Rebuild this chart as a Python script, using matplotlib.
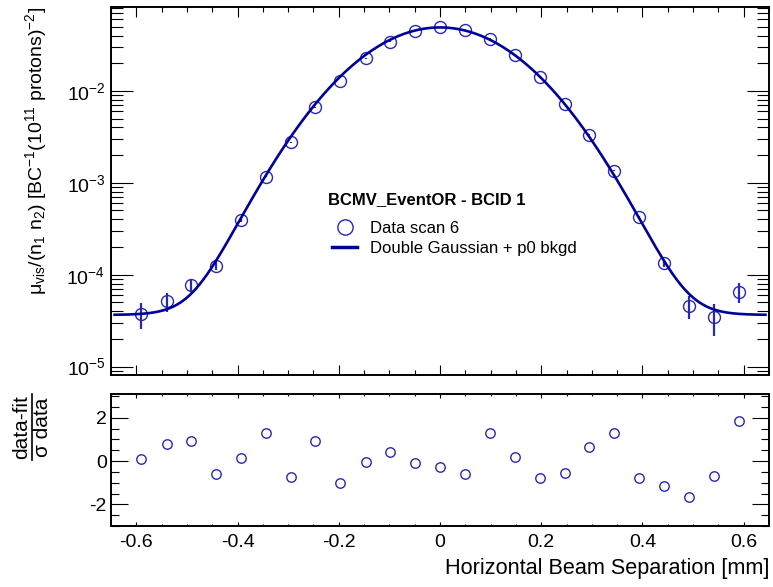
import numpy as np
import matplotlib
matplotlib.use('Agg')
import matplotlib.pyplot as plt
import matplotlib.ticker as ticker
from matplotlib.lines import Line2D

plt.rcParams['font.family'] = ['Liberation Sans', 'DejaVu Sans']
plt.rcParams['mathtext.fontset'] = 'custom'
plt.rcParams['mathtext.rm'] = 'Liberation Sans'
plt.rcParams['mathtext.it'] = 'Liberation Sans:italic'
plt.rcParams['mathtext.bf'] = 'Liberation Sans:bold'
plt.rcParams['axes.unicode_minus'] = False

# data
separation = [-0.590, -0.540, -0.491, -0.442, -0.393, -0.344, -0.295, -0.246, -0.197,
              -0.147, -0.098, -0.049, 0.000, 0.049, 0.098, 0.148, 0.197, 0.246,
              0.295, 0.344, 0.393, 0.443, 0.492, 0.541, 0.590]
mu_vis = [3.77e-5, 5.13e-5, 7.66e-5, 1.25e-4, 3.94e-4, 1.17e-3, 2.77e-3, 6.65e-3, 1.285e-2,
          2.26e-2, 3.44e-2, 4.49e-2, 4.92e-2, 4.60e-2, 3.70e-2, 2.44e-2, 1.41e-2, 7.17e-3,
          3.33e-3, 1.36e-3, 4.23e-4, 1.33e-4, 4.60e-5, 3.44e-5, 6.49e-5]
mu_err = [1.2e-5, 1.2e-5, 1.2e-5, 1.3e-5, 1.5e-5, 2.5e-5, 4e-5, 7e-5, 1.2e-4,
          1.8e-4, 2.5e-4, 3e-4, 3e-4, 3e-4, 2.5e-4, 1.8e-4, 1.2e-4, 7e-5,
          4e-5, 2.5e-5, 1.5e-5, 1.3e-5, 1.3e-5, 1.3e-5, 1.6e-5]
pull = [0.08, 0.80, 0.94, -0.58, 0.12, 1.29, -0.74, 0.94, -1.01, -0.03, 0.41, -0.11, -0.26,
        -0.60, 1.31, 0.18, -0.80, -0.54, 0.63, 1.31, -0.77, -1.17, -1.67, -0.67, 1.86]

# fit result: double gaussian + constant background
fit_bkg = 3.65e-5
fit_amp = 0.049
fit_mean = 0.0
fit_sigma1 = 0.121
fit_sigma2 = 0.130
fit_frac = 0.5
fit_range = (-0.643, 0.643)

marker_color = '#2828b4'
curve_color = '#00009a'

fig = plt.figure(figsize=(7.73, 5.87), dpi=100)
W, H = 773, 587
ax = fig.add_axes([111 / W, 1 - 375 / H, 658 / W, 368 / H])
ax2 = fig.add_axes([111 / W, 1 - 526 / H, 658 / W, 132 / H])

# main panel
ax.errorbar(separation, mu_vis, yerr=mu_err, fmt='o', mfc='none', mec=marker_color,
            ecolor=marker_color, ms=8.6, mew=1.0, elinewidth=1.6, capsize=0, zorder=2)
xf = np.linspace(fit_range[0], fit_range[1], 600)
g1 = np.exp(-0.5 * ((xf - fit_mean) / fit_sigma1) ** 2)
g2 = np.exp(-0.5 * ((xf - fit_mean) / fit_sigma2) ** 2)
ax.plot(xf, fit_bkg + fit_amp * (fit_frac * g1 + (1 - fit_frac) * g2),
        color=curve_color, lw=1.9, zorder=3)

ax.set_yscale('log')
ax.set_xlim(-0.65, 0.65)
ax.set_ylim(8.1e-6, 0.0818)
ax.yaxis.set_major_locator(ticker.LogLocator(base=10, numticks=10))
ax.yaxis.set_minor_locator(ticker.LogLocator(base=10, subs=np.arange(2, 10), numticks=10))
ax.yaxis.set_major_formatter(ticker.LogFormatterMathtext())
ax.yaxis.set_minor_formatter(ticker.NullFormatter())
ax.xaxis.set_major_locator(ticker.MultipleLocator(0.2))
ax.xaxis.set_minor_locator(ticker.MultipleLocator(0.05))
ax.tick_params(axis='x', which='both', direction='in', top=True, labelbottom=False, width=0.8)
ax.tick_params(axis='x', which='major', length=7.2)
ax.tick_params(axis='x', which='minor', length=3.6)
ax.tick_params(axis='y', which='both', direction='in', right=True, width=0.8, labelsize=14, pad=4)
ax.tick_params(axis='y', which='major', length=15.8)
ax.tick_params(axis='y', which='minor', length=8.6)

ax.set_ylabel(r'$\mathrm{\mu}_{\mathrm{vis}}/(\mathrm{n}_{1}\ \mathrm{n}_{2})\ '
              r'[\mathrm{BC}^{-1}(10^{11}\ \mathrm{protons})^{-2}]$', fontsize=14, loc='top')
ax.yaxis.set_label_coords(-0.094, 1.0)

# legend block
fig.text(328 / W, 1 - 200 / H, 'BCMV_EventOR - BCID 1', fontsize=12, fontweight='bold',
         ha='left', va='center')
handles = [Line2D([], [], marker='o', ls='none', mfc='none', mec=marker_color, ms=11, mew=1.0),
           Line2D([], [], color=curve_color, lw=2.5)]
ax.legend(handles, ['Data scan 6', 'Double Gaussian + p0 bkgd'],
          fontsize=12, frameon=False, loc='upper left',
          bbox_to_anchor=(332 / W, 1 - 221 / H), bbox_transform=fig.transFigure,
          borderpad=0, borderaxespad=0, handlelength=1.5, handletextpad=0.78,
          labelspacing=0.32)

# residual panel
ax2.plot(separation, pull, 'o', mfc='none', mec=marker_color, ms=6.8, mew=1.0)
ax2.set_xlim(-0.65, 0.65)
ax2.set_ylim(-3.0, 3.1)
ax2.xaxis.set_major_locator(ticker.MultipleLocator(0.2))
ax2.xaxis.set_minor_locator(ticker.MultipleLocator(0.05))
ax2.yaxis.set_major_locator(ticker.FixedLocator([-2, 0, 2]))
ax2.yaxis.set_minor_locator(ticker.MultipleLocator(0.5))
ax2.xaxis.set_major_formatter(ticker.FuncFormatter(lambda v, _: f'{v:g}' if abs(v) > 1e-9 else '0'))
ax2.tick_params(axis='x', which='both', direction='in', top=True, width=0.8, labelsize=14, pad=6)
ax2.tick_params(axis='x', which='major', length=2.8)
ax2.tick_params(axis='x', which='minor', length=1.6)
ax2.tick_params(axis='y', which='both', direction='in', right=True, width=0.8, labelsize=14, pad=3)
ax2.tick_params(axis='y', which='major', length=12.2)
ax2.tick_params(axis='y', which='minor', length=5.8)
ax2.set_xlabel('Horizontal Beam Separation [mm]', fontsize=15.6, loc='right', labelpad=5)

for a in (ax, ax2):
    for s in a.spines.values():
        s.set_linewidth(1.4)

# stacked fraction label for the residual panel
fig.text(22 / W, 1 - 427 / H, 'data-fit', rotation=90, ha='center', va='center', fontsize=15)
fig.text(43 / W, 1 - 427 / H, 'σ data', rotation=90, ha='center', va='center', fontsize=15)
fig.add_artist(Line2D([31.5 / W, 31.5 / W], [1 - 394 / H, 1 - 460 / H],
                      transform=fig.transFigure, color='black', lw=1.2))

fig.savefig('out.png', dpi=100)
